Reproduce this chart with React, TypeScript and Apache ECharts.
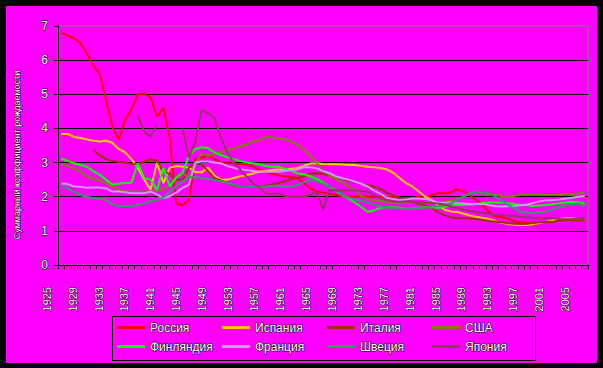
import React, { useEffect, useRef } from "react";
import * as echarts from "echarts";

const years: string[] = Array.from({ length: 83 }, (_, i) => String(1925 + i));

const russia = [
  6.8, 6.72, 6.64, 6.5, 6.2, 5.85, 5.6, 4.85, 4.05, 3.66,
  4.25, 4.55, 5.0, 5.02, 4.9, 4.35, 4.6, 3.7, 1.8, 1.75,
  1.9, 3.1, 3.15, 3.2, 3.1, 3.0, 2.98, 2.98, 2.95, 2.95,
  2.88, 2.8, 2.72, 2.68, 2.63, 2.6, 2.58, 2.55, 2.4, 2.25,
  2.15, 2.12, 2.08, 2.05, 2.02, 2.0, 2.0, 2.02, 2.0, 2.0,
  2.0, 2.0, 1.98, 1.96, 1.96, 1.95, 2.0, 1.95, 2.05, 2.1,
  2.1, 2.12, 2.22, 2.15, 2.05, 1.9, 1.75, 1.55, 1.42, 1.4,
  1.35, 1.28, 1.25, 1.24, 1.22, 1.22, 1.25, 1.3, 1.32, 1.34,
  1.33, 1.32, 1.38,
];

const spain = [
  3.84, 3.84, 3.75, 3.72, 3.68, 3.64, 3.62, 3.64, 3.58, 3.4,
  3.3, 3.1, 2.85, 2.5, 2.2, 3.0, 2.4, 2.85, 2.9, 2.88,
  2.85, 2.72, 2.72, 2.85, 2.62, 2.5, 2.5, 2.55, 2.6, 2.63,
  2.68, 2.73, 2.75, 2.78, 2.8, 2.8, 2.82, 2.84, 2.9, 2.97,
  2.98, 2.96, 2.95, 2.95, 2.94, 2.93, 2.93, 2.9, 2.88, 2.86,
  2.84, 2.8, 2.7, 2.55, 2.4, 2.3, 2.15, 2.0, 1.9, 1.75,
  1.62, 1.57, 1.55, 1.5, 1.45, 1.41, 1.38, 1.35, 1.28, 1.24,
  1.2, 1.18, 1.17, 1.17, 1.2, 1.24, 1.27, 1.31, 1.34, 1.37,
  1.37, 1.36, 1.35,
];

const italy = [
  null, null, null, null, null, 3.37, 3.22, 3.1, 3.05, 3.02,
  3.0, 2.96, 2.95, 3.03, 3.08, 3.06, 2.75, 2.66, 2.5, 2.5,
  2.85, 2.98, 2.95, 2.75, 2.55, 2.48, 2.4, 2.33, 2.3, 2.29,
  2.29, 2.3, 2.32, 2.35, 2.4, 2.45, 2.52, 2.55, 2.6, 2.68,
  2.69, 2.67, 2.62, 2.58, 2.52, 2.48, 2.42, 2.38, 2.34, 2.3,
  2.23, 2.12, 2.04, 1.97, 1.9, 1.84, 1.79, 1.74, 1.68, 1.55,
  1.46, 1.4, 1.37, 1.37, 1.36, 1.34, 1.32, 1.29, 1.27, 1.25,
  1.22, 1.21, 1.2, 1.21, 1.23, 1.25, 1.26, 1.27, 1.3, 1.32,
  1.3, 1.3, 1.32,
];

const usa = [
  2.96, 2.88, 2.83, 2.73, 2.6, 2.52, 2.48, 2.4, 2.3, 2.2,
  2.15, 2.15, 2.15, 2.15, 2.15, 2.17, 2.22, 2.35, 2.6, 2.7,
  2.55, 2.95, 3.27, 3.2, 3.27, 3.3, 3.37, 3.42, 3.48, 3.53,
  3.62, 3.67, 3.76, 3.74, 3.71, 3.68, 3.62, 3.52, 3.37, 3.2,
  3.0, 2.75, 2.62, 2.52, 2.42, 2.3, 2.18, 2.02, 1.93, 1.9,
  1.88, 1.85, 1.82, 1.8, 1.82, 1.84, 1.84, 1.84, 1.84, 1.85,
  1.86, 1.88, 1.93, 2.0, 2.08, 2.12, 2.1, 2.07, 2.05, 2.02,
  2.0, 2.03, 2.05, 2.07, 2.07, 2.06, 2.05, 2.05, 2.07, 2.08,
  2.08, 2.1, 2.12,
];

const finland = [
  3.12, 3.05, 2.98, 2.93, 2.88, 2.75, 2.65, 2.5, 2.36, 2.38,
  2.4, 2.41, 2.98, 2.55, 2.5, 2.2, 2.85, 2.3, 2.55, 2.7,
  3.2, 3.4, 3.45, 3.42, 3.3, 3.22, 3.16, 3.1, 3.05, 3.0,
  2.98, 2.95, 2.9, 2.88, 2.88, 2.82, 2.77, 2.68, 2.66, 2.6,
  2.52, 2.42, 2.3, 2.17, 2.05, 1.95, 1.83, 1.7, 1.55, 1.6,
  1.68, 1.69, 1.69, 1.68, 1.66, 1.66, 1.68, 1.69, 1.7, 1.67,
  1.7, 1.74, 1.76, 1.76, 1.77, 1.79, 1.81, 1.83, 1.83, 1.82,
  1.81, 1.79, 1.76, 1.75, 1.73, 1.74, 1.76, 1.78, 1.81, 1.83,
  1.85, 1.83, 1.81,
];

const france = [
  2.39, 2.37, 2.3, 2.29, 2.26, 2.27, 2.27, 2.25, 2.15, 2.15,
  2.13, 2.1, 2.1, 2.1, 2.15, 2.07, 1.95, 2.02, 2.12, 2.26,
  2.35, 3.0, 3.03, 3.03, 3.0, 2.98, 2.9, 2.85, 2.8, 2.78,
  2.75, 2.73, 2.73, 2.73, 2.73, 2.75, 2.78, 2.8, 2.86, 2.86,
  2.83, 2.75, 2.69, 2.6, 2.54, 2.5, 2.44, 2.38, 2.3, 2.18,
  2.08, 1.97, 1.93, 1.9, 1.92, 1.95, 1.95, 1.93, 1.9, 1.82,
  1.82, 1.83, 1.81, 1.8, 1.79, 1.79, 1.79, 1.76, 1.72, 1.71,
  1.72, 1.73, 1.75, 1.77, 1.82, 1.87, 1.9, 1.9, 1.92, 1.95,
  1.97, 2.0, 2.02,
];

const sweden = [
  2.32, 2.25, 2.15, 2.05, 2.0, 1.96, 1.95, 1.9, 1.78, 1.73,
  1.73, 1.73, 1.76, 1.8, 1.87, 1.9, 1.98, 2.15, 2.3, 2.45,
  2.56, 2.58, 2.55, 2.52, 2.49, 2.45, 2.4, 2.35, 2.3, 2.29,
  2.29, 2.29, 2.3, 2.32, 2.32, 2.3, 2.3, 2.35, 2.42, 2.5,
  2.45, 2.38, 2.3, 2.2, 2.05, 1.98, 1.92, 1.88, 1.82, 1.78,
  1.71, 1.69, 1.67, 1.66, 1.66, 1.66, 1.66, 1.68, 1.71, 1.72,
  1.76, 1.8, 1.9, 2.0, 2.1, 2.13, 2.12, 2.1, 2.0, 1.88,
  1.75, 1.65, 1.55, 1.53, 1.52, 1.55, 1.57, 1.63, 1.7, 1.74,
  1.78, 1.8, 1.72,
];

const japan = [
  null, null, null, null, null, null, null, null, null, null,
  null, null, 4.39, 3.9, 3.76, 4.1, null, null, null, 4.0,
  3.15, 3.6, 4.54, 4.45, 4.3, 3.75, 3.3, 3.0, 2.8, 2.6,
  2.4, 2.28, 2.1, 2.08, 2.1, 2.03, 2.0, 2.0, 2.0, 2.05,
  2.15, 1.62, 2.2, 2.18, 2.18, 2.18, 2.18, 2.17, 2.15, 2.05,
  1.95, 1.9, 1.86, 1.85, 1.85, 1.85, 1.84, 1.82, 1.81, 1.8,
  1.77, 1.72, 1.67, 1.62, 1.59, 1.55, 1.52, 1.5, 1.47, 1.46,
  1.44, 1.43, 1.41, 1.4, 1.38, 1.37, 1.37, 1.37, 1.35, 1.34,
  1.35, 1.37, 1.37,
];

const yTicks = [0, 1, 2, 3, 4, 5, 6, 7];
const legendColumns = [
  ["Россия", "Финляндия"],
  ["Испания", "Франция"],
  ["Италия", "Швеция"],
  ["США", "Япония"],
];
const yTitle = "Суммарный коэффициент рождаемости";

const seriesDefs = [
  { name: "Россия", color: "#FF0000", data: russia },
  { name: "Испания", color: "#FFCC00", data: spain },
  { name: "Италия", color: "#993300", data: italy },
  { name: "США", color: "#808000", data: usa },
  { name: "Финляндия", color: "#00FF00", data: finland },
  { name: "Франция", color: "#CC99FF", data: france },
  { name: "Швеция", color: "#339966", data: sweden },
  { name: "Япония", color: "#993366", data: japan },
];

const FONT = "'Liberation Sans', Arial, sans-serif";

export default function App() {
  const ref = useRef<HTMLDivElement>(null);
  useEffect(() => {
    if (!ref.current) return;
    const chart = echarts.init(ref.current, null, { renderer: "svg" });
    const txt = {
      color: "#fff",
      textBorderColor: "#000",
      textBorderWidth: 1,
      fontFamily: FONT,
    };
    chart.setOption({
      animation: false,
      backgroundColor: "#FF00FF",
      grid: [
        {
          left: 52,
          top: 20,
          width: 530,
          height: 239,
          show: true,
          borderColor: "#808080",
          borderWidth: 1,
          backgroundColor: "transparent",
        },
        { left: 37.5, top: 20, width: 537.8, height: 239 },
      ],
      xAxis: [
        {
          type: "category",
          gridIndex: 0,
          data: years,
          boundaryGap: true,
          axisLine: { lineStyle: { color: "#000", width: 1 } },
          axisTick: { show: true, interval: 0, length: 4, lineStyle: { color: "#000" } },
          axisLabel: { show: false },
          splitLine: { show: false },
        },
        {
          type: "category",
          gridIndex: 1,
          data: years,
          boundaryGap: true,
          axisLine: { show: false },
          axisTick: { show: false },
          splitLine: { show: false },
          axisLabel: { interval: 3, rotate: 90, margin: 22, fontSize: 11, ...txt },
        },
      ],
      yAxis: [
        {
          type: "value",
          gridIndex: 0,
          min: yTicks[0],
          max: yTicks[yTicks.length - 1],
          interval: 1,
          axisLine: { show: true, lineStyle: { color: "#000", width: 1 } },
          axisTick: { show: true, length: 4, lineStyle: { color: "#000" } },
          splitLine: { show: true, showMaxLine: false, lineStyle: { color: "#000", width: 1 } },
          axisLabel: { fontSize: 12, margin: 10, ...txt },
        },
        { type: "value", gridIndex: 1, show: false, min: 0, max: 7 },
      ],
      legend: legendColumns.map((names, k) => ({
        left: 111 + 105 * k,
        top: 315,
        orient: "vertical",
        itemWidth: 28,
        itemHeight: 3,
        itemGap: 6,
        icon: "rect",
        padding: 0,
        selectedMode: false,
        data: names,
        textStyle: { fontSize: 12, ...txt },
      })),
      graphic: [
        {
          type: "rect",
          shape: { x: 106.5, y: 310.5, width: 423, height: 44 },
          style: { fill: "none", stroke: "#000", lineWidth: 1 },
        },
        {
          type: "text",
          x: 11,
          y: 149,
          rotation: Math.PI / 2,
          style: {
            text: yTitle,
            fontSize: 9,
            fontFamily: FONT,
            fill: "#fff",
            stroke: "#000",
            lineWidth: 1,
            align: "center",
            verticalAlign: "middle",
          },
        },
      ],
      series: seriesDefs.map((s) => ({
        name: s.name,
        type: "line",
        xAxisIndex: 0,
        yAxisIndex: 0,
        data: s.data,
        symbol: "none",
        showSymbol: false,
        connectNulls: false,
        color: s.color,
        lineStyle: { color: s.color, width: 2 },
      })),
    });
    return () => chart.dispose();
  }, []);
  return (
    <div
      style={{
        position: "fixed",
        left: 0,
        top: 0,
        width: 603,
        height: 368,
        background: "#000",
      }}
    >
      <div
        ref={ref}
        style={{ position: "absolute", left: 6, top: 6, width: 591, height: 357 }}
      />
    </div>
  );
}
